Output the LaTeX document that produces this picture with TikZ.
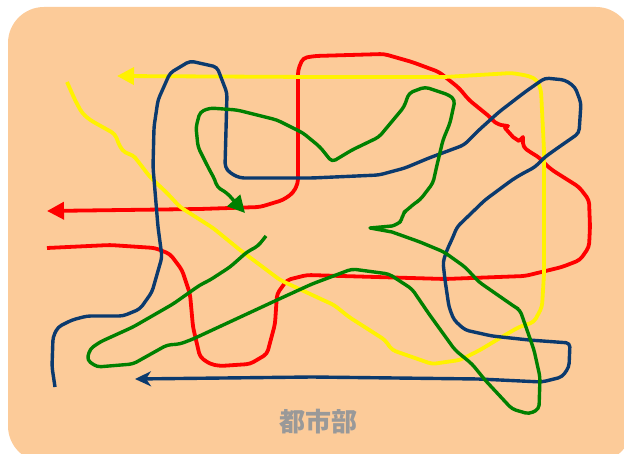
\documentclass[tikz,border=0pt]{standalone}
\usepackage{fontspec}
\newfontfamily\jpfont{Noto Sans CJK JP}
\usetikzlibrary{arrows.meta}
\definecolor{peach}{HTML}{FCCB99}
\definecolor{navy}{HTML}{0B3A6E}
\definecolor{dgreen}{HTML}{008000}
\definecolor{textgrey}{HTML}{999999}

\begin{document}
\begin{tikzpicture}[x=1pt,y=-1pt,
  route/.style={line width=3.8pt,rounded corners=4pt,line join=round},
  thin route/.style={route,line width=3.4pt},
  >={Triangle[length=17pt,width=17pt]}]
\useasboundingbox (0,0) rectangle (624,454);
\fill[peach,rounded corners=36pt] (8,7) rectangle (632,462);

% red line
\draw[route,red,->] (47,248) -- (110,245) -- (155,248) -- (170,254) -- (182,270) -- (190,294)
  -- (193,327) -- (200,357) -- (210,364) -- (220,366) -- (250,364) -- (267,354) -- (275,324)
  -- (277,294) -- (287,280) -- (307,275) -- (445,279) -- (525,276) -- (562,267) -- (580,260)
  -- (589,247) -- (590,227) -- (589,200) -- (579,187) -- (552,170) -- (544,163) -- (540,158)
  -- (530,152) -- (523,147) [sharp corners] -- (523,137) -- (519,141) -- (513,137) -- (505,128)
  -- (508,126) -- (501,125) [rounded corners=4pt] -- (495,123) -- (490,117) -- (485,113)
  -- (469,100) -- (459,88) -- (439,72) -- (412,62) -- (384,54) -- (315,56) -- (303,58)
  -- (298,70) -- (298,183) -- (293,193) -- (283,200) -- (260,207) -- (200,209) -- (47,211);

% yellow line
\draw[route,yellow,->] (67,82) -- (75,100) -- (82,113) -- (90,120) -- (115,134) -- (120,147)
  -- (125,153) -- (133,155) -- (137,160) -- (150,177) -- (167,193) -- (180,207) -- (213,228)
  -- (240,250) -- (280,280) -- (323,300) -- (334,305) -- (349,317) -- (385,340) -- (392,350)
  -- (432,364) -- (460,360) -- (480,350) -- (500,338) -- (519,327) -- (534,322) -- (542,307)
  -- (544,274) -- (544,150) -- (541,90) -- (537,80) -- (529,76) -- (512,73) -- (445,77)
  -- (312,77) -- (117,76);

% blue line
\draw[thin route,navy,-{Stealth[length=16pt,width=15pt,inset=5pt]}] (55,387) -- (52,367)
  -- (53,337) -- (58,327) -- (72,320) -- (87,316) -- (123,316) -- (140,309) -- (152,292)
  -- (160,264) -- (162,257) -- (158,227) -- (153,167) -- (154,127) -- (158,100) -- (170,73)
  -- (190,61) -- (217,67) -- (222,80) -- (227,93) -- (225,167) -- (230,173) -- (240,178)
  -- (312,178) -- (379,175) -- (405,168) -- (429,158) -- (464,145) -- (479,130) -- (499,112)
  -- (525,92) -- (545,78) -- (565,80) -- (575,87) -- (581,103) -- (579,133) -- (572,138)
  -- (559,147) -- (545,157) -- (535,167) -- (520,175) -- (512,180) -- (485,200) -- (457,227)
  -- (453,237) -- (447,250) -- (443,262) -- (445,280) -- (449,307) -- (454,320) -- (465,330)
  -- (492,336) -- (529,340) -- (570,343) -- (569,367) -- (562,377) -- (542,382) -- (479,379)
  -- (312,377) -- (135,379);

% green line
\draw[thin route,dgreen,->] (266,236) -- (258,246) -- (247,252) -- (230,267) -- (210,280)
  -- (200,285) -- (173,304) -- (133,327) -- (100,342) -- (90,349) -- (87,360) -- (97,367)
  -- (133,364) -- (167,345) -- (180,344) -- (193,339) -- (277,300) -- (312,284) -- (352,269)
  -- (389,274) -- (412,289) -- (429,314) -- (455,350) -- (472,364) -- (485,380) -- (512,409)
  -- (529,414) -- (539,409) -- (540,377) -- (534,350) -- (520,310) -- (515,307) -- (479,282)
  -- (465,267) -- (444,252) -- (420,242) [sharp corners] -- (392,232) -- (370,228)
  -- (392,226) [rounded corners=4pt] -- (398,224) -- (402,220) -- (403,213) -- (407,210)
  -- (415,203) -- (420,200) -- (433,183) -- (437,165) -- (443,140) -- (450,123) -- (455,100)
  -- (449,95) -- (425,87) -- (409,93) -- (404,107) -- (379,137) -- (352,150) -- (332,162)
  -- (320,147) -- (303,133) -- (277,120) -- (237,110) -- (210,108) -- (200,112) -- (196,127)
  -- (198,147) -- (208,167) -- (215,180) -- (217,187) -- (227,193) -- (245,213);

\node[text=textgrey,font=\jpfont\bfseries\fontsize{26}{30}\selectfont] (area) at (318,422) {都市部};
\end{tikzpicture}
\end{document}
